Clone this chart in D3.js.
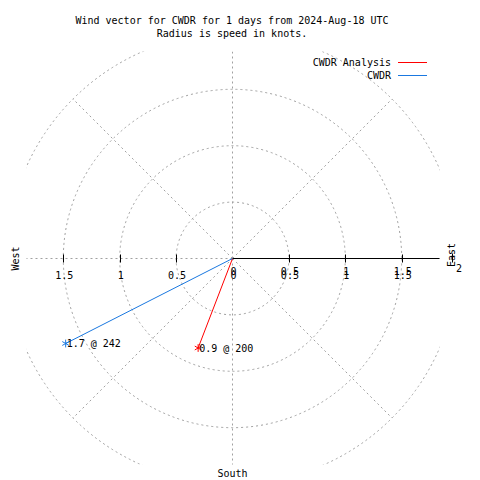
<!DOCTYPE html>
<html><head><meta charset="utf-8">
<script src="https://cdn.jsdelivr.net/npm/d3@7"></script>
<style>body{margin:0;background:#fff}svg{display:block}text{font-family:"DejaVu Sans Mono",monospace;font-size:10px;fill:#000}</style>
</head><body>
<script>
const titleLines = ["Wind vector for CWDR for 1 days from 2024-Aug-18 UTC", "Radius is speed in knots."];
const seriesNames = ["CWDR Analysis", "CWDR"];
const seriesColors = ["#ff0000", "#1a78e0"];
const speeds = [0.85, 1.66];
const directions = [201, 243];
const pointLabels = ["0.9 @ 200", "1.7 @ 242"];
const gridRadii = [0.5, 1, 1.5, 2];
const gridAngles = [0, 45, 90, 135, 180, 225, 270, 315];
const xTicks = [-1.5, -1, -0.5, 0, 0.5, 1, 1.5];
const xTickLabels = ["1.5", "1", "0.5", "0", "0.5", "1", "1.5"];
const rTicks = [0, 0.5, 1, 1.5, 2];
const rTickLabels = ["0", "0.5", "1", "1.5", "2"];

const W = 480, H = 480, cx = 232.5, cy = 258.5;
const svg = d3.select("body").append("svg").attr("width", W).attr("height", H);
const r = d3.scaleLinear().domain([0, 2]).range([0, 225.6]);
const x = d3.scaleLinear().domain([-2, 2]).range([cx - 225.6, cx + 225.6]);

svg.append("defs").append("clipPath").attr("id", "clip")
  .append("rect").attr("x", 26.5).attr("y", 51.5).attr("width", 413).attr("height", 413);

const g = svg.append("g").attr("clip-path", "url(#clip)");
const gridStyle = s => s.attr("fill", "none").attr("stroke", "#a0a0a0").attr("stroke-width", 1).attr("stroke-dasharray", "2,3");
g.selectAll("circle.grid").data(gridRadii).join("circle")
  .attr("cx", cx).attr("cy", cy).attr("r", d => r(d)).call(gridStyle);
g.selectAll("line.grid").data(gridAngles).join("line")
  .attr("x1", cx).attr("y1", cy)
  .attr("x2", a => cx + r(2) * Math.sin(a * Math.PI / 180))
  .attr("y2", a => cy - r(2) * Math.cos(a * Math.PI / 180)).call(gridStyle);

// r axis
svg.append("line").attr("x1", cx).attr("y1", cy).attr("x2", 439.5).attr("y2", cy).attr("stroke", "#000");
svg.selectAll("line.xt").data(xTicks.filter(d => d !== 0)).join("line")
  .attr("x1", d => Math.round(x(d)) + 0.5).attr("x2", d => Math.round(x(d)) + 0.5)
  .attr("y1", cy - 4).attr("y2", cy + 4).attr("stroke", "#000");
svg.append("line").attr("x1", Math.round(x(2)) - 5.5).attr("x2", Math.round(x(2)) - 5.5)
  .attr("y1", cy - 5).attr("y2", cy + 4).attr("stroke", "#000");
svg.selectAll("text.xt").data(xTicks).join("text")
  .attr("x", d => x(d) + 1).attr("y", 279).attr("text-anchor", "middle").text((d, i) => xTickLabels[i]);
svg.selectAll("text.rt").data(rTicks).join("text")
  .attr("x", d => x(d) + 1).attr("y", (d, i) => i === rTicks.length - 1 ? 272 : 275).attr("text-anchor", "middle").text((d, i) => rTickLabels[i]);

// direction labels
svg.append("text").attr("transform", `translate(19,${cy}) rotate(-90)`).attr("text-anchor", "middle").text("West");
svg.append("text").attr("transform", `translate(455,255) rotate(-90)`).attr("text-anchor", "middle").text("East");
svg.append("text").attr("x", cx).attr("y", 477).attr("text-anchor", "middle").text("South");

// title
svg.selectAll("text.title").data(titleLines).join("text")
  .attr("x", 232).attr("y", (d, i) => 24 + i * 13).attr("text-anchor", "middle").text(d => d);

// legend
seriesNames.forEach((n, i) => {
  const y = 62.5 + i * 13;
  svg.append("text").attr("x", 391).attr("y", y + 3.5).attr("text-anchor", "end").text(n);
  svg.append("line").attr("x1", 398).attr("x2", 427).attr("y1", y).attr("y2", y).attr("stroke", seriesColors[i]);
});

// vectors
const pts = speeds.map((s, i) => {
  const a = directions[i] * Math.PI / 180;
  return { px: cx + r(s) * Math.sin(a), py: cy - r(s) * Math.cos(a), c: seriesColors[i], l: pointLabels[i] };
});
pts.forEach(p => {
  svg.append("line").attr("x1", cx).attr("y1", cy).attr("x2", p.px).attr("y2", p.py).attr("stroke", p.c);
  svg.append("path").attr("d", d3.symbol(d3.symbolAsterisk, 42)())
    .attr("transform", `translate(${p.px},${p.py})`).attr("fill", "none").attr("stroke", p.c);
  svg.append("text").attr("x", p.px + 1).attr("y", p.py + 3.5).text(p.l);
});
</script>
</body></html>
